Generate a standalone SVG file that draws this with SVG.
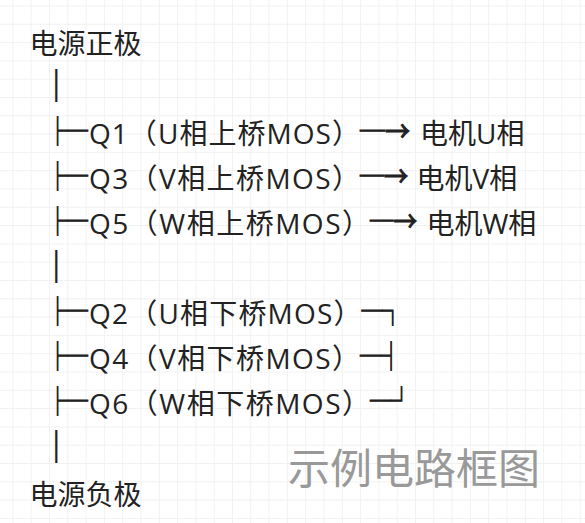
<svg xmlns="http://www.w3.org/2000/svg" width="585" height="523" viewBox="0 0 585 523">
<defs>
<pattern id="grid" x="12.4" y="5.5" width="18.3" height="18.3" patternUnits="userSpaceOnUse">
<path d="M0 0.5H18.3M0.5 0V18.3" fill="none" stroke="#f1f1f1" stroke-width="1"/>
</pattern>
<style>
.t{font-family:"Open Sans","Noto Sans CJK SC",sans-serif;font-size:28px;fill:#222}
.b{font-family:"Noto Sans CJK SC",sans-serif;font-size:28px;fill:#222;stroke:#222;stroke-width:1.1px}
.p{font-family:"Open Sans",sans-serif;font-size:32px;fill:#222}
.w{font-family:"Noto Sans CJK SC",sans-serif;font-size:42px;fill:#999}
</style>
</defs>
<rect width="585" height="523" fill="#fff"/>
<rect width="585" height="523" fill="url(#grid)"/>
<g id="connectors">
<text class="p" x="47.5" y="94">|</text>
<text class="b" transform="translate(47.5,141.7) scale(0.72,1)">├─</text>
<text class="b" transform="translate(360,141.7) scale(0.89,1)">─→</text>
<text class="b" transform="translate(47.5,186.8) scale(0.72,1)">├─</text>
<text class="b" transform="translate(360,186.8) scale(0.86,1)">─→</text>
<text class="b" transform="translate(47.5,231.9) scale(0.72,1)">├─</text>
<text class="b" transform="translate(370,231.9) scale(0.84,1)">─→</text>
<text class="p" x="47.5" y="274.5">|</text>
<text class="b" transform="translate(47.5,322.1) scale(0.72,1)">├─</text>
<text class="b" transform="translate(361.5,322.1) scale(0.745,1)">─┐</text>
<text class="b" transform="translate(47.5,367.2) scale(0.72,1)">├─</text>
<text class="b" transform="translate(360,367.2) scale(0.74,1)">─┤</text>
<text class="b" transform="translate(47.5,412.3) scale(0.72,1)">├─</text>
<text class="b" transform="translate(370,412.3) scale(0.75,1)">─┘</text>
<text class="p" x="47.5" y="455">|</text>
</g>
<g id="power-pos"><text class="t" x="29.5" y="53.5">电源正极</text></g>
<g id="q1"><text class="t" x="89" y="143.7" textLength="271" lengthAdjust="spacing">Q1（U相上桥MOS）</text></g>
<g id="motor-u"><text class="t" x="420" y="143.7">电机U相</text></g>
<g id="q3"><text class="t" x="89" y="188.8" textLength="271" lengthAdjust="spacing">Q3（V相上桥MOS）</text></g>
<g id="motor-v"><text class="t" x="416.5" y="188.8">电机V相</text></g>
<g id="q5"><text class="t" x="89" y="233.9" textLength="281" lengthAdjust="spacing">Q5（W相上桥MOS）</text></g>
<g id="motor-w"><text class="t" x="426.5" y="233.9">电机W相</text></g>
<g id="q2"><text class="t" x="89" y="324.1" textLength="272.5" lengthAdjust="spacing">Q2（U相下桥MOS）</text></g>
<g id="q4"><text class="t" x="89" y="369.2" textLength="271" lengthAdjust="spacing">Q4（V相下桥MOS）</text></g>
<g id="q6"><text class="t" x="89" y="414.3" textLength="281" lengthAdjust="spacing">Q6（W相下桥MOS）</text></g>
<g id="power-neg"><text class="t" x="29.5" y="504.5">电源负极</text></g>
<text class="w" x="288" y="484">示例电路框图</text>
</svg>
